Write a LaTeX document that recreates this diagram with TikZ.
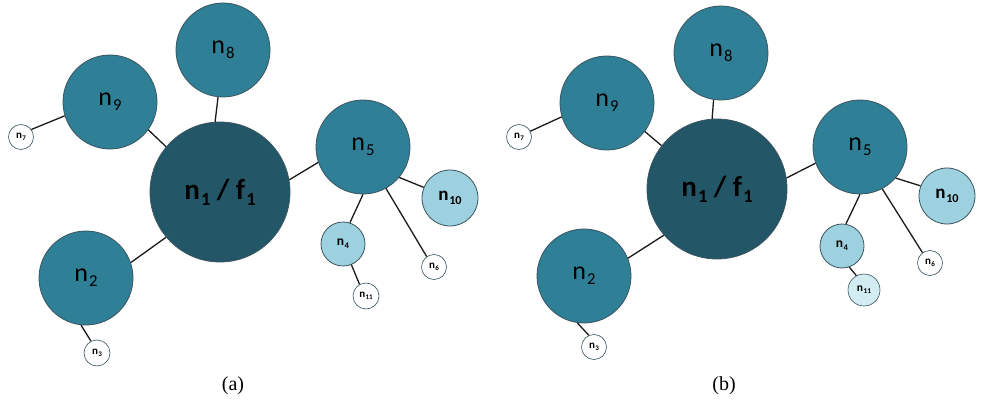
\documentclass[tikz,border=0pt]{standalone}
\usepackage{graphicx}
\usepackage{fontspec}
\setmainfont{Carlito}
\newfontfamily\capfont{Liberation Serif}
\definecolor{cdark}{HTML}{235667}
\definecolor{cmid}{HTML}{2F7F97}
\definecolor{clight}{HTML}{9DD1DF}
\definecolor{cpale}{HTML}{D2ECF2}
\definecolor{cedge}{HTML}{3A5560}
\newcommand{\nlab}[2]{#1\kern0.04em\raisebox{-0.2em}{\scalebox{0.64}{#2}}}
\tikzset{
  vtx/.style={circle, draw=cedge, line width=0.8pt, inner sep=0pt, text=black},
  hub/.style={vtx, fill=cdark, minimum size=140pt, font=\fontsize{29}{32}\selectfont\bfseries},
  big/.style={vtx, fill=cmid, minimum size=94pt, font=\fontsize{26}{28}\selectfont},
  midl/.style={vtx, fill=clight, minimum size=56pt, font=\fontsize{19}{21}\selectfont\bfseries},
  smalll/.style={vtx, fill=clight, minimum size=44pt, font=\fontsize{13.5}{15}\selectfont\bfseries},
  tinyw/.style={vtx, fill=white, minimum size=25pt, line width=0.6pt, font=\fontsize{11}{12}\selectfont\bfseries},
  tinyp/.style={vtx, fill=cpale, minimum size=32pt, line width=0.6pt, font=\fontsize{11.5}{13}\selectfont\bfseries},
  link/.style={draw=black!90, line width=1.3pt},
  captxt/.style={font=\capfont\fontsize{20}{22}\selectfont}
}
\begin{document}
\begin{tikzpicture}[x=1pt,y=-1pt]
\useasboundingbox (0,0) rectangle (982,406);
% ---------- (a) ----------
\node[hub] (a1) at (220,192) {\nlab{n}{1} / \nlab{f}{1}};
\node[big] (a8) at (223,50) {\nlab{n}{8}};
\node[big] (a9) at (110,102) {\nlab{n}{9}};
\node[big] (a2) at (86,278) {\nlab{n}{2}};
\node[big] (a5) at (363,147) {\nlab{n}{5}};
\node[midl] (a10) at (450,198) {\nlab{n}{10}};
\node[smalll] (a4) at (343,244) {\nlab{n}{4}};
\node[tinyw] (a6) at (434,267) {\nlab{n}{6}};
\node[tinyw, minimum size=26pt] (a11) at (366,296) {\nlab{n}{11}};
\node[tinyw] (a7) at (21,137) {\nlab{n}{7}};
\node[tinyw, minimum size=26pt] (a3) at (97,353) {\nlab{n}{3}};
\node[captxt] (ca) at (233,386) {(a)};
\draw[link] (a1.94) -- (a8.264);
\draw[link] (a1.140) -- (a9.324);
\draw[link] (a9.197) -- (a7.36);
\draw[link] (a1.220) -- (a2.19);
\draw[link] (a2.264) -- (a3.117);
\draw[link] (a1.10) -- (a5.199);
\draw[link] (a5.270) -- (a4.72);
\draw[link] (a5.299) -- (a6.125);
\draw[link] (a5.320) -- (a10.158);
\draw[link] (a4.292) -- (a11.119);
% ---------- (b) ----------
\node[hub] (b1) at (717,189) {\nlab{n}{1} / \nlab{f}{1}};
\node[big] (b8) at (721,53) {\nlab{n}{8}};
\node[big] (b9) at (607,103) {\nlab{n}{9}};
\node[big] (b2) at (584,276) {\nlab{n}{2}};
\node[big] (b5) at (860,147) {\nlab{n}{5}};
\node[midl] (b10) at (947,196) {\nlab{n}{10}};
\node[smalll] (b4) at (842,246) {\nlab{n}{4}};
\node[tinyw] (b6) at (930,263) {\nlab{n}{6}};
\node[tinyp] (b11) at (864,290) {\nlab{n}{11}};
\node[tinyw] (b7) at (519,137) {\nlab{n}{7}};
\node[tinyw] (b3) at (594,347) {\nlab{n}{3}};
\node[captxt] (cb) at (724,386) {(b)};
\draw[link] (b1.94) -- (b8.261);
\draw[link] (b1.142) -- (b9.323);
\draw[link] (b9.197) -- (b7.27);
\draw[link] (b1.221) -- (b2.22);
\draw[link] (b2.262) -- (b3.114);
\draw[link] (b1.9) -- (b5.200);
\draw[link] (b5.270) -- (b4.80);
\draw[link] (b5.298) -- (b6.126);
\draw[link] (b5.319) -- (b10.159);
\draw[link] (b4.289) -- (b11.118);
\end{tikzpicture}
\end{document}
